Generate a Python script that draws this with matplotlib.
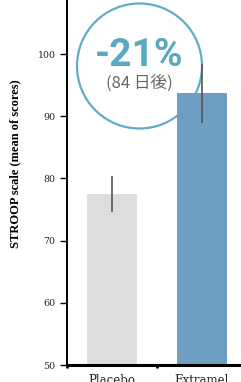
import matplotlib
matplotlib.use("Agg")
import matplotlib.pyplot as plt
from matplotlib.patches import Ellipse

groups = ["Placebo", "Extramel"]
means = [77.5, 93.7]
errors = [2.85, 4.75]
colors = ["#dcdedd", "#6f9ec3"]
y_ticks = [50, 60, 70, 80, 90, 100]
badge_main = "-21%"
badge_sub = "(84 日後)"

fig = plt.figure(figsize=(2.41, 3.82), dpi=100)
ax = fig.add_axes([0.277, 0.0445, 0.723, 0.9555])

x = list(range(len(groups)))
ax.bar(x, means, width=0.556, color=colors, zorder=2)
ax.errorbar(x, means, yerr=errors, fmt="none", ecolor="#555555",
            elinewidth=1.2, capsize=0, zorder=3)

ax.set_xlim(-0.493, 1.435)
ax.set_ylim(50, 108.7)
ax.set_yticks(y_ticks)
ax.set_yticklabels([str(v) for v in y_ticks], fontfamily="DejaVu Serif",
                   fontsize=6.8, color="#222222")
ax.tick_params(axis="y", length=5, width=1, pad=3)

ax.set_xticks(x)
ax.set_xticklabels(groups, fontfamily="DejaVu Serif", fontsize=8.5, color="#222222")
ax.set_xticks([-0.5, 0.5], minor=True)
ax.tick_params(axis="x", which="major", length=0, pad=6.5)
ax.tick_params(axis="x", which="minor", length=2.5, width=2)

for side in ["top", "right"]:
    ax.spines[side].set_visible(False)
ax.spines["left"].set_linewidth(1.4)
ax.spines["bottom"].set_linewidth(2.2)

fig.text(15 / 241, 1 - 164 / 382, "STROOP scale (mean of scores)",
         rotation=90, ha="center", va="center", fontfamily="Liberation Serif",
         fontweight="bold", fontsize=9)

# badge circle behind the bars
circ = Ellipse((139.5 / 241, 1 - 66 / 382), 125 / 241, 125 / 382,
               transform=fig.transFigure, fill=True, facecolor="white",
               edgecolor="#62acc4", linewidth=1.6, zorder=1)
ax.add_patch(circ)

fig.text(139.5 / 241, 1 - 56 / 382, badge_main, ha="center", va="center",
         fontfamily="Roboto", fontweight="bold", fontsize=28, color="#5aa9c2")
fig.text(139.5 / 241, 1 - 83 / 382, badge_sub, ha="center", va="center",
         fontfamily=["Noto Sans CJK JP", "DejaVu Sans"], fontsize=12, color="#666666")

fig.savefig("out.png", dpi=100)
